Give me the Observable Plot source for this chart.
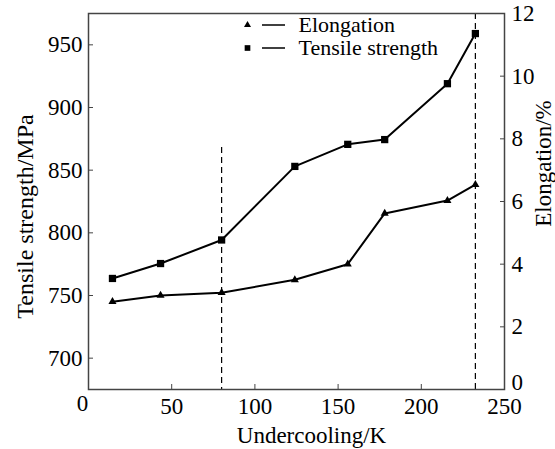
<!DOCTYPE html>
<html><head><meta charset="utf-8">
<script src="https://cdn.jsdelivr.net/npm/d3@7"></script>
<script src="https://cdn.jsdelivr.net/npm/@observablehq/plot@0.6"></script>
<style>body{margin:0;background:#fff} svg, svg text{font-family:"Liberation Serif",serif !important; font-variant:normal !important}</style>
</head><body><div id="chart"></div>
<script>
const undercooling = [14.4, 43.3, 80, 124, 155.8, 178, 215.7, 232.5];
const tensileStrength = [763.6, 775.5, 794.3, 853, 870.6, 874.4, 919, 959];
const elongation = [2.8, 3.0, 3.09, 3.5, 4.0, 5.62, 6.03, 6.54];
const xTicks = [50, 100, 150, 200, 250];
const tensileTicks = [700, 750, 800, 850, 900, 950];
const elongationTicks = [2, 4, 6, 8, 10, 12];
const dashedX = [80, 232.5];
const dashedTop = [868, 975];
const legendLabels = ["Elongation", "Tensile strength"];
const legendSymbols = ["triangle", "square"];

// Elongation (0–12 %) shares the frame with tensile strength (675–975 MPa)
const yBase = 675, yPerPct = 25;
const toY = e => yBase + yPerPct * e;
const rows = undercooling.map((x, i) => ({x, ts: tensileStrength[i], el: toY(elongation[i])}));
const dashRows = dashedX.map((x, i) => ({x, top: dashedTop[i]}));

const fs = 23;
const ff = "Liberation Serif";
const legendMarks = legendLabels.flatMap((label, i) => {
  const dy = 11.5 + i * 23;
  return [
    Plot.dot([label], {frameAnchor: "top-left", dx: 159, dy, symbol: legendSymbols[i], r: i === 0 ? 2.6 : 3.2, fill: "#000", stroke: "none"}),
    Plot.ruleY([label], {y: null, dy: dy - 188, insetLeft: 174, insetRight: 219, stroke: "#000", strokeWidth: 1.5}),
    Plot.text([label], {frameAnchor: "top-left", lineAnchor: "middle", dx: 210, dy, text: d => d, textAnchor: "start", fontSize: 22, fontFamily: ff, fill: "#000"})
  ];
});

const chart = Plot.plot({
  width: 555, height: 449,
  marginLeft: 88, marginRight: 51, marginTop: 13, marginBottom: 60,
  style: {fontFamily: ff, fontSize: fs + "px", color: "#000", background: "#fff"},
  x: {domain: [0, 250]},
  y: {domain: [675, 975]},
  marks: [
    Plot.ruleX(dashRows, {x: "x", y1: "top", y2: yBase, stroke: "#000", strokeWidth: 1.2, strokeDasharray: "6,4"}),
    Plot.line(rows, {x: "x", y: "ts", stroke: "#000", strokeWidth: 2}),
    Plot.line(rows, {x: "x", y: "el", stroke: "#000", strokeWidth: 2}),
    Plot.dot(rows, {x: "x", y: "ts", symbol: "square", r: 4.1, fill: "#000", stroke: "none"}),
    Plot.dot(rows, {x: "x", y: "el", symbol: "triangle", r: 3, fill: "#000", stroke: "none"}),
    Plot.frame({stroke: "#444", strokeWidth: 1.5}),
    Plot.axisX(xTicks, {tickSize: -5, tickPadding: 13, fontSize: fs, fontFamily: ff, fontVariant: "normal", fill: "#000", stroke: "#444", label: null}),
    Plot.axisY(tensileTicks, {anchor: "left", tickSize: -5, tickPadding: 11, fontSize: fs, fontFamily: ff, fontVariant: "normal", fill: "#000", stroke: "#444", label: null}),
    Plot.axisY(elongationTicks.map(toY), {anchor: "right", tickSize: -5, tickPadding: 12, fontSize: fs, fontFamily: ff, fontVariant: "normal", fill: "#000", stroke: "#444", label: null, tickFormat: d => String(Math.round((d - yBase) / yPerPct))}),
    Plot.text(["0"], {frameAnchor: "bottom-left", lineAnchor: "middle", textAnchor: "middle", dx: -6, dy: 14, text: d => d, fontSize: fs, fontFamily: ff, fill: "#000"}),
    Plot.text(["0"], {frameAnchor: "bottom-right", lineAnchor: "middle", textAnchor: "start", dx: 7, dy: -7, text: d => d, fontSize: fs, fontFamily: ff, fill: "#000"}),
    Plot.text(["Undercooling/K"], {frameAnchor: "bottom", lineAnchor: "middle", textAnchor: "middle", dx: 15, dy: 46, text: d => d, fontSize: fs, fontFamily: ff, fill: "#000"}),
    Plot.text(["Tensile strength/MPa"], {frameAnchor: "left", lineAnchor: "middle", textAnchor: "middle", dx: -63, dy: 15, rotate: -90, text: d => d, fontSize: fs + 1, fontFamily: ff, fill: "#000"}),
    Plot.text(["Elongation/%"], {frameAnchor: "right", lineAnchor: "middle", textAnchor: "middle", dx: 39, dy: -38, rotate: -90, text: d => d, fontSize: fs, fontFamily: ff, fill: "#000"}),
    ...legendMarks
  ]
});
document.getElementById("chart").appendChild(chart);
</script>
</body></html>
